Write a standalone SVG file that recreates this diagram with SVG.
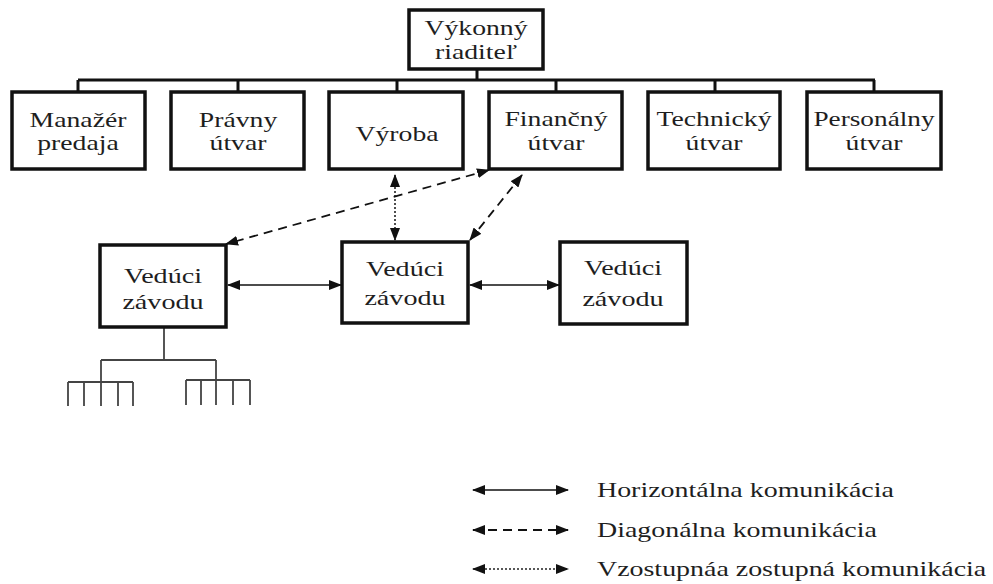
<svg xmlns="http://www.w3.org/2000/svg" width="993" height="584" viewBox="0 0 993 584">
  <style>
    .box { fill: #ffffff; stroke: #111111; stroke-width: 3.5; }
    .bus { fill: none; stroke: #111111; stroke-width: 3; }
    .sub { fill: none; stroke: #444444; stroke-width: 1.8; }
    .lbl { font-family: "Liberation Serif", "Times New Roman", serif; font-size: 22px; fill: #1e1e1e; text-anchor: middle; }
    .leg { font-family: "Liberation Serif", "Times New Roman", serif; font-size: 22px; fill: #1e1e1e; }
    .solid { fill: none; stroke: #111111; stroke-width: 1.6; }
    .dash { fill: none; stroke: #111111; stroke-width: 1.8; stroke-dasharray: 9 6; }
    .dot { fill: none; stroke: #222222; stroke-width: 1.6; stroke-dasharray: 2 2; }
  </style>
  <defs>
    <marker id="ah" markerUnits="userSpaceOnUse" markerWidth="13" markerHeight="10" refX="12" refY="5" orient="auto-start-reverse">
      <path d="M0,0 L13,5 L0,10 Z" fill="#111111"/>
    </marker>
  </defs>

  <rect width="993" height="584" fill="#ffffff"/>

  <!-- hierarchy lines -->
  <g id="tree-lines">
    <path class="bus" d="M477,69 V80 M78,80 H875 M78,80 V92 M238,80 V92 M397,80 V92 M556,80 V92 M715,80 V92 M874,80 V92"/>
    <path class="sub" d="M164,327 V360 M101,360 H216 M68,382 H133 M68,382 V406 M84,382 V406 M101,360 V406 M118,382 V406 M133,382 V406 M186,380 H250 M186,380 V405 M201,380 V405 M216,360 V405 M233,380 V405 M250,380 V405"/>
  </g>

  <!-- top level -->
  <g id="vykonny-riaditel">
    <rect class="box" x="409" y="10" width="134" height="59"/>
    <text class="lbl" transform="translate(476,35) scale(1.26,1)">Výkonný</text>
    <text class="lbl" transform="translate(476,59) scale(1.26,1)">riaditeľ</text>
  </g>

  <!-- departments -->
  <g id="manazer-predaja">
    <rect class="box" x="12" y="92" width="133" height="77"/>
    <text class="lbl" transform="translate(78,127) scale(1.26,1)">Manažér</text>
    <text class="lbl" transform="translate(78,150) scale(1.26,1)">predaja</text>
  </g>
  <g id="pravny-utvar">
    <rect class="box" x="171" y="92" width="133" height="77"/>
    <text class="lbl" transform="translate(238,127) scale(1.26,1)">Právny</text>
    <text class="lbl" transform="translate(238,150) scale(1.26,1)">útvar</text>
  </g>
  <g id="vyroba">
    <rect class="box" x="329" y="92" width="134" height="77"/>
    <text class="lbl" transform="translate(397,141) scale(1.26,1)">Výroba</text>
  </g>
  <g id="financny-utvar">
    <rect class="box" x="489" y="92" width="133" height="77"/>
    <text class="lbl" transform="translate(556,126) scale(1.26,1)">Finančný</text>
    <text class="lbl" transform="translate(556,150) scale(1.26,1)">útvar</text>
  </g>
  <g id="technicky-utvar">
    <rect class="box" x="648" y="92" width="132" height="77"/>
    <text class="lbl" transform="translate(714,126) scale(1.26,1)">Technický</text>
    <text class="lbl" transform="translate(714,150) scale(1.26,1)">útvar</text>
  </g>
  <g id="personalny-utvar">
    <rect class="box" x="807" y="92" width="134" height="77"/>
    <text class="lbl" transform="translate(874,126) scale(1.24,1)">Personálny</text>
    <text class="lbl" transform="translate(874,150) scale(1.26,1)">útvar</text>
  </g>

  <!-- plant managers -->
  <g id="veduci-zavodu-1">
    <rect class="box" x="100" y="245" width="126" height="82"/>
    <text class="lbl" transform="translate(163,283) scale(1.28,1)">Vedúci</text>
    <text class="lbl" transform="translate(163,309) scale(1.28,1)">závodu</text>
  </g>
  <g id="veduci-zavodu-2">
    <rect class="box" x="342" y="242" width="126" height="81"/>
    <text class="lbl" transform="translate(405,276) scale(1.28,1)">Vedúci</text>
    <text class="lbl" transform="translate(405,305) scale(1.28,1)">závodu</text>
  </g>
  <g id="veduci-zavodu-3">
    <rect class="box" x="560" y="242" width="127" height="82"/>
    <text class="lbl" transform="translate(623,275) scale(1.28,1)">Vedúci</text>
    <text class="lbl" transform="translate(623,306) scale(1.28,1)">závodu</text>
  </g>

  <!-- communication connectors -->
  <g id="connectors">
    <line class="solid" x1="228" y1="285" x2="341" y2="285" marker-start="url(#ah)" marker-end="url(#ah)"/>
    <line class="solid" x1="470" y1="285" x2="559" y2="285" marker-start="url(#ah)" marker-end="url(#ah)"/>
    <line class="dot" x1="395" y1="175" x2="395" y2="240" marker-start="url(#ah)" marker-end="url(#ah)"/>
    <line class="dash" x1="489" y1="170" x2="226" y2="244" marker-start="url(#ah)" marker-end="url(#ah)"/>
    <line class="dash" x1="522" y1="175" x2="470" y2="240" marker-start="url(#ah)" marker-end="url(#ah)"/>
  </g>

  <!-- legend -->
  <g id="legend">
    <line class="solid" x1="473" y1="490" x2="568" y2="490" marker-start="url(#ah)" marker-end="url(#ah)"/>
    <line class="dash" x1="473" y1="530" x2="568" y2="530" marker-start="url(#ah)" marker-end="url(#ah)"/>
    <line class="dot" x1="473" y1="569" x2="568" y2="569" marker-start="url(#ah)" marker-end="url(#ah)"/>
    <text class="leg" transform="translate(597,497) scale(1.27,1)">Horizontálna komunikácia</text>
    <text class="leg" transform="translate(597,537) scale(1.27,1)">Diagonálna komunikácia</text>
    <text class="leg" transform="translate(597,576) scale(1.27,1)">Vzostupnáa zostupná komunikácia</text>
  </g>
</svg>
